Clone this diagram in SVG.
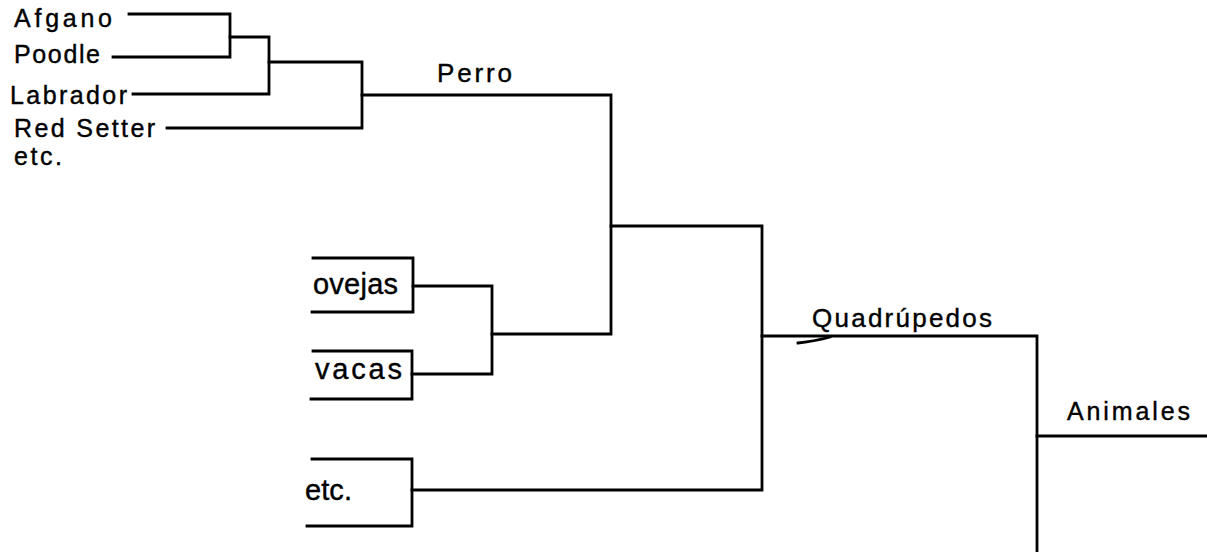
<svg xmlns="http://www.w3.org/2000/svg" width="1207" height="552" viewBox="0 0 1207 552">
<style>
text{font-family:"Liberation Sans",Arial,sans-serif;fill:#000;stroke:#000;stroke-width:0.4;}
.s{font-size:25px;}
.m{font-size:26px;}
.b{font-size:29px;}
.ln{fill:none;stroke:#000;stroke-width:2.8;stroke-linecap:square;stroke-linejoin:miter;}
</style>
<rect width="1207" height="552" fill="#fff"/>
<g id="node-afgano"><text class="s" x="14" y="27" textLength="98" lengthAdjust="spacing">Afgano</text></g>
<g id="node-poodle"><text class="s" x="14" y="63" textLength="86" lengthAdjust="spacing">Poodle</text></g>
<g id="node-labrador"><text class="s" x="10" y="104" textLength="117" lengthAdjust="spacing">Labrador</text></g>
<g id="node-redsetter"><text class="s" x="14" y="137" textLength="141" lengthAdjust="spacing">Red Setter</text></g>
<g id="node-etc1"><text class="s" x="14" y="165" textLength="48" lengthAdjust="spacing">etc.</text></g>
<g id="node-perro"><text class="m" x="437" y="82" textLength="75" lengthAdjust="spacing">Perro</text></g>
<g id="node-ovejas">
<path class="ln" d="M313,258 H413 V312 H312"/>
<text class="b" x="313" y="294" textLength="85" lengthAdjust="spacing">ovejas</text>
</g>
<g id="node-vacas">
<path class="ln" d="M313,351 H412 V399 H311"/>
<text class="b" x="315" y="379" textLength="87" lengthAdjust="spacing">vacas</text>
</g>
<g id="node-etc2">
<path class="ln" d="M312,459 H412 V526 H307"/>
<text class="b" x="305" y="500" textLength="47" lengthAdjust="spacing">etc.</text>
</g>
<g id="node-quadrupedos"><text class="m" x="812" y="327" textLength="180" lengthAdjust="spacing">Quadrúpedos</text></g>
<g id="node-animales"><text class="s" x="1067" y="420" textLength="123" lengthAdjust="spacing">Animales</text></g>
<g id="connectors">
<path class="ln" d="M129,14 H230 V57 H113"/>
<path class="ln" d="M230,37 H269 V94 H133"/>
<path class="ln" d="M269,62 H362 V128 H167"/>
<path class="ln" d="M362,95 H611 V334 H492"/>
<path class="ln" d="M413,286 H492 V374 H412"/>
<path class="ln" d="M611,226 H762 V490 H412"/>
<path class="ln" d="M762,336 H1037 V552"/>
<path class="ln" d="M1037,436 H1207"/>
<path class="ln" d="M798,343 Q816,341 830,337" stroke-width="2"/>
</g>
</svg>
